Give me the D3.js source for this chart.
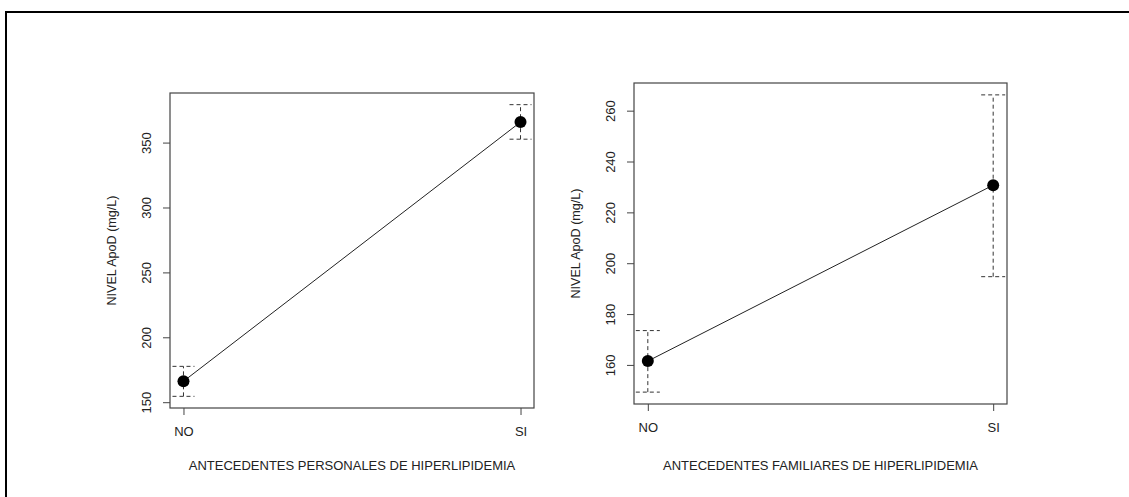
<!DOCTYPE html>
<html>
<head>
<meta charset="utf-8">
<script src="https://cdn.jsdelivr.net/npm/d3@7"></script>
<style>
  html, body { margin: 0; padding: 0; background: #fff; }
  svg { display: block; }
  text { font-family: "Liberation Sans", Arial, sans-serif; fill: #222; }
</style>
</head>
<body>
<svg id="chart" width="1129" height="497"></svg>
<script>
// Group labels on the x axis
const groups = ["NO", "SI"];

// Personal history of hyperlipidemia: means and interval limits (mg/L)
const personalMean  = [166.5, 366.2];
const personalLower = [154.9, 353.0];
const personalUpper = [178.0, 379.6];
const personalTicks = [150, 200, 250, 300, 350];

// Family history of hyperlipidemia: means and interval limits (mg/L)
const familyMean  = [161.7, 230.9];
const familyLower = [149.5, 194.9];
const familyUpper = [173.7, 266.4];
const familyTicks = [160, 180, 200, 220, 240, 260];

const yTitle = "NIVEL ApoD (mg/L)";
const xTitles = ["ANTECEDENTES PERSONALES DE HIPERLIPIDEMIA",
                 "ANTECEDENTES FAMILIARES DE HIPERLIPIDEMIA"];

const svg = d3.select("#chart");

// Outer frame
svg.append("rect")
  .attr("x", 6).attr("y", 12)
  .attr("width", 1140).attr("height", 500)
  .attr("fill", "none").attr("stroke", "#000").attr("stroke-width", 2);

function panel(box, mean, lower, upper, ticks, xTitle, capHalf) {
  const pad = 0.04;
  const lo = d3.min(lower), hi = d3.max(upper);
  const r = hi - lo;
  const y = d3.scaleLinear().domain([lo - pad * r, hi + pad * r])
    .range([box.y1, box.y0]);
  const x = d3.scaleLinear().domain([1 - pad, 2 + pad])
    .range([box.x0, box.x1]);
  const xi = i => x(i + 1);

  const g = svg.append("g");

  // Plot box
  g.append("rect")
    .attr("x", box.x0).attr("y", box.y0)
    .attr("width", box.x1 - box.x0).attr("height", box.y1 - box.y0)
    .attr("fill", "none").attr("stroke", "#444").attr("stroke-width", 1.2);

  // Y axis with labels rotated parallel to the axis
  const yAxis = d3.axisLeft(y).tickValues(ticks).tickSize(7).tickPadding(6);
  const ya = g.append("g").attr("transform", `translate(${box.x0},0)`).call(yAxis);
  ya.select(".domain").remove();
  ya.selectAll(".tick").attr("transform", null);
  ya.selectAll(".tick line")
    .attr("stroke", "#444")
    .attr("y1", d => y(d)).attr("y2", d => y(d))
    .attr("x1", 0).attr("x2", -7);
  ya.selectAll(".tick text")
    .attr("font-size", 13)
    .attr("text-anchor", "middle")
    .attr("x", 0).attr("y", 0).attr("dy", 0)
    .attr("dominant-baseline", "central")
    .attr("transform", d => `translate(-23.5,${y(d)}) rotate(-90)`);

  // X axis
  const xAxis = d3.axisBottom(x).tickValues([1, 2])
    .tickFormat(d => groups[d - 1]).tickSize(7).tickPadding(12);
  const xa = g.append("g").attr("transform", `translate(0,${box.y1})`).call(xAxis);
  xa.select(".domain").remove();
  xa.selectAll("line").attr("stroke", "#444");
  xa.selectAll("text").attr("font-size", 13);

  // Axis titles
  g.append("text")
    .attr("x", (box.x0 + box.x1) / 2).attr("y", 470)
    .attr("text-anchor", "middle").attr("font-size", 13)
    .text(xTitle);
  g.append("text")
    .attr("transform", `translate(${box.x0 - 54},${(box.y0 + box.y1) / 2}) rotate(-90)`)
    .attr("text-anchor", "middle").attr("font-size", 12.6)
    .text(yTitle);

  // Interval bars (dashed)
  const bars = g.append("g")
    .attr("stroke", "#333").attr("stroke-width", 1)
    .attr("stroke-dasharray", "4,3").attr("fill", "none");
  groups.forEach((_, i) => {
    bars.append("line")
      .attr("x1", xi(i)).attr("x2", xi(i))
      .attr("y1", y(lower[i])).attr("y2", y(upper[i]));
    bars.append("line")
      .attr("x1", xi(i) - capHalf).attr("x2", xi(i) + capHalf)
      .attr("y1", y(lower[i])).attr("y2", y(lower[i]));
    bars.append("line")
      .attr("x1", xi(i) - capHalf).attr("x2", xi(i) + capHalf)
      .attr("y1", y(upper[i])).attr("y2", y(upper[i]));
  });

  // Connecting line
  g.append("path")
    .datum(mean)
    .attr("d", d3.line().x((d, i) => xi(i)).y(d => y(d)))
    .attr("fill", "none").attr("stroke", "#222").attr("stroke-width", 1);

  // Mean points
  g.selectAll("circle.pt").data(mean).join("circle")
    .attr("class", "pt")
    .attr("cx", (d, i) => xi(i)).attr("cy", d => y(d))
    .attr("r", 6).attr("fill", "#000");
}

panel({ x0: 170, x1: 534, y0: 93, y1: 408 },
      personalMean, personalLower, personalUpper, personalTicks, xTitles[0], 11);
panel({ x0: 634, x1: 1007, y0: 83, y1: 404 },
      familyMean, familyLower, familyUpper, familyTicks, xTitles[1], 12);
</script>
</body>
</html>
